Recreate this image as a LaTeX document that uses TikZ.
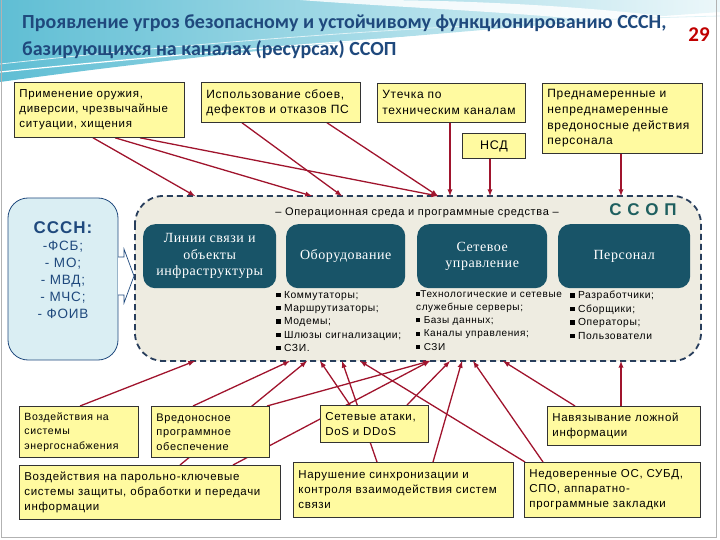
\documentclass[tikz,border=0pt]{standalone}
\usepackage{fontspec}
\setmainfont[LetterSpace=6]{Liberation Sans}
\newfontfamily\ttlfont{Carlito}
\newfontfamily\srffont[LetterSpace=4]{Liberation Serif}
\usetikzlibrary{arrows}
\definecolor{ttlblue}{RGB}{31,73,125}
\definecolor{numred}{RGB}{192,0,0}
\definecolor{lnred}{RGB}{160,20,45}
\definecolor{pale}{RGB}{255,250,160}
\definecolor{tanbg}{RGB}{238,236,225}
\definecolor{darkbox}{RGB}{24,84,104}
\definecolor{ssopgreen}{RGB}{30,95,95}
\definecolor{ice}{RGB}{218,238,243}
\definecolor{dashblue}{RGB}{40,62,92}
\definecolor{hdcyan}{RGB}{95,190,212}
\pgfdeclarelayer{bg}
\pgfdeclarelayer{lines}
\pgfsetlayers{bg,lines,main}
\newcommand\sqmark{\rule[0.12em]{0.42em}{0.42em}}
\newcommand\sqb{\sqmark~}
\tikzset{
  ybox/.style={draw=black!80,fill=pale,line width=0.8pt,anchor=north west,align=left,
    inner xsep=5pt,inner ysep=0pt,font=\fontsize{11.5}{15}\selectfont},
  dbox/.style={fill=darkbox,rounded corners=12pt,text=white,align=center,anchor=north west,
    minimum height=64pt,inner sep=0pt,font=\srffont\fontsize{14}{16.5}\selectfont},
  lst/.style={anchor=north west,align=left,inner sep=0pt,font=\fontsize{10.3}{13.3}\selectfont},
  hit/.style={lnred,line width=1.3pt,-latex},
}
\begin{document}
\begin{tikzpicture}[x=1pt,y=-1pt]
\useasboundingbox (0,0) rectangle (720,540);
% header
\begin{pgfonlayer}{bg}
\shade[left color=hdcyan,right color=hdcyan!12] (0,0) -- (720,0) -- (720,12)
  .. controls (520,26) and (260,46) .. (0,82) -- cycle;
\fill[white,opacity=.85] (300,0) .. controls (430,10) and (600,14) .. (720,38)
  -- (720,24) .. controls (610,6) and (460,0) .. (370,0) -- cycle;
\draw[white,line width=1.2pt] (0,72) .. controls (200,52) and (450,30) .. (720,22);
\draw[white!80!hdcyan,line width=0.8pt] (0,64) .. controls (220,40) and (470,22) .. (720,16);
\draw[gray!60,line width=1pt] (1.5,-2) -- (1.5,537.5) -- (716.5,537.5) -- (716.5,-2);
% region
\draw[fill=tanbg,draw=dashblue,line width=1.8pt,dash pattern=on 6pt off 4pt,rounded corners=28pt]
  (135,196) rectangle (701,361);
\draw[fill=ice,draw=ttlblue,line width=0.8pt,rounded corners=20pt] (8,198) rectangle (118,360);
\draw[fill=white,draw=ttlblue,line width=0.7pt] (118,257) -- (124,257) -- (124,249) -- (134,276)
  -- (124,303) -- (124,295) -- (118,295);
\end{pgfonlayer}
\node[anchor=north west,inner sep=0pt,align=left,text=ttlblue,
  font=\ttlfont\bfseries\fontsize{20}{27}\selectfont] (ttl) at (22,15)
  {Проявление угроз безопасному и устойчивому функционированию СССН,\\
   базирующихся на каналах (ресурсах) ССОП};
\node[text=numred,font=\ttlfont\bfseries\fontsize{21}{24}\selectfont] (pg) at (699,35) {29};
% ends of the arrows on the region
\foreach \n/\x/\y in {t1/195/196,t2/312/196,t3/342/196,t4/438/196,t5/450/196,t6/490/196,t7/621/196,
  u1/195/361,u2/290/361,u3/307/361,u4/320/361,u5/342/361,u6/360/361,u7/430/361,
  u8/450/361,u9/462/361,u10/473/361,u11/503/361,u12/621/361}
  \coordinate (\n) at (\x,\y);
% top threats
\node[ybox,text width=160pt,minimum height=55pt] (w1) at (14,82)
  {Применение оружия,\\ диверсии, чрезвычайные\\ ситуации, хищения};
\node[ybox,text width=149pt,minimum height=40pt,font=\fontsize{12}{15}\selectfont] (w2) at (201,82)
  {Использование сбоев,\\ дефектов и отказов ПС};
\node[ybox,text width=138pt,minimum height=39pt,font=\fontsize{12}{16}\selectfont] (w3) at (377,83)
  {Утечка по\\ техническим каналам};
\node[ybox,text width=53pt,minimum height=25pt,align=center,font=\fontsize{12.5}{15}\selectfont] (w4) at (462,133) {НСД};
\node[ybox,text width=150pt,minimum height=70pt,font=\fontsize{12}{15.7}\selectfont] (w5) at (542,83)
  {Преднамеренные и\\ непреднамеренные\\ вредоносные действия\\ персонала};
% inside SSOP
\node[font=\fontsize{11}{12}\selectfont] (os) at (417,213)
  {– Операционная среда и программные средства –};
\node[text=ssopgreen,font=\bfseries\fontsize{17}{20}\selectfont] (ssop) at (643,210) {С С О П};
\node[dbox,minimum width=133pt] (d1) at (143,224) {Линии связи и\\ объекты\\ инфраструктуры};
\node[dbox,minimum width=119pt] (d2) at (286,224) {Оборудование};
\node[dbox,minimum width=130pt] (d3) at (417,224) {Сетевое\\ управление};
\node[dbox,minimum width=132pt] (d4) at (558,224) {Персонал};
\node[lst] (l1) at (276,291)
  {\sqb Коммутаторы;\\ \sqb Маршрутизаторы;\\ \sqb Модемы;\\ \sqb Шлюзы сигнализации;\\ \sqb СЗИ.};
\node[lst,font=\fontsize{10}{13.3}\selectfont] (l2) at (416,290)
  {\sqmark Технологические и сетевые\\ служебные серверы;\\ \sqb Базы данных;\\ \sqb Каналы управления;\\ \sqb СЗИ};
\node[lst,font=\fontsize{10.3}{13.5}\selectfont] (l3) at (570,291)
  {\sqb Разработчики;\\ \sqb Сборщики;\\ \sqb Операторы;\\ \sqb Пользователи};
\node[text=ttlblue,align=center,font=\fontsize{13.5}{17}\selectfont] (sscn) at (63,270)
  {{\bfseries\fontsize{17}{20}\selectfont СССН:}\\ -ФСБ;\\ - МО;\\ - МВД;\\ - МЧС;\\ - ФОИВ};
% bottom threats
\node[ybox,text width=109pt,minimum height=51pt,font=\fontsize{10.5}{14.5}\selectfont] (b1) at (19,406)
  {Воздействия на\\ системы\\ энергоснабжения};
\node[ybox,text width=108pt,minimum height=51pt,font=\fontsize{11}{14.5}\selectfont] (b2) at (151,406)
  {Вредоносное\\ программное\\ обеспечение};
\node[ybox,text width=98pt,minimum height=37pt] (b3) at (320,405) {Сетевые атаки,\\ DoS и DDoS};
\node[ybox,text width=143pt,minimum height=39pt] (b4) at (547,406) {Навязывание ложной\\ информации};
\node[ybox,text width=251pt,minimum height=54pt] (b5) at (19,465)
  {Воздействия на парольно-ключевые\\ системы защиты, обработки и передачи\\ информации};
\node[ybox,text width=210pt,minimum height=55pt] (b6) at (293,462)
  {Нарушение синхронизации и\\ контроля взаимодействия систем\\ связи};
\node[ybox,text width=166pt,minimum height=55pt] (b7) at (524,462)
  {Недоверенные ОС, СУБД,\\ СПО, аппаратно-\\ программные закладки};
% connectors
\begin{pgfonlayer}{lines}
\foreach \a/\s/\b in {w1/79/t1,w1/101/t2,w1/126/t4,w2/41/t3,w2/126/t4,w3/73/t5,w4/28/t6,w5/79/t7}
  \draw[hit] ([xshift=\s pt]\a.south west) -- (\b);
\foreach \a/\s/\b in {b1/61/u1,b2/42/u2,b5/161/u3,b2/116/u7,b5/214/u7,b3/30/u4,b6/84/u5,
  b7/1/u6,b3/87/u8,b6/140/u9,b7/19/u10,b4/28/u11,b4/74/u12}
  \draw[hit] ([xshift=\s pt]\a.north west) -- (\b);
\end{pgfonlayer}
\end{tikzpicture}
\end{document}
